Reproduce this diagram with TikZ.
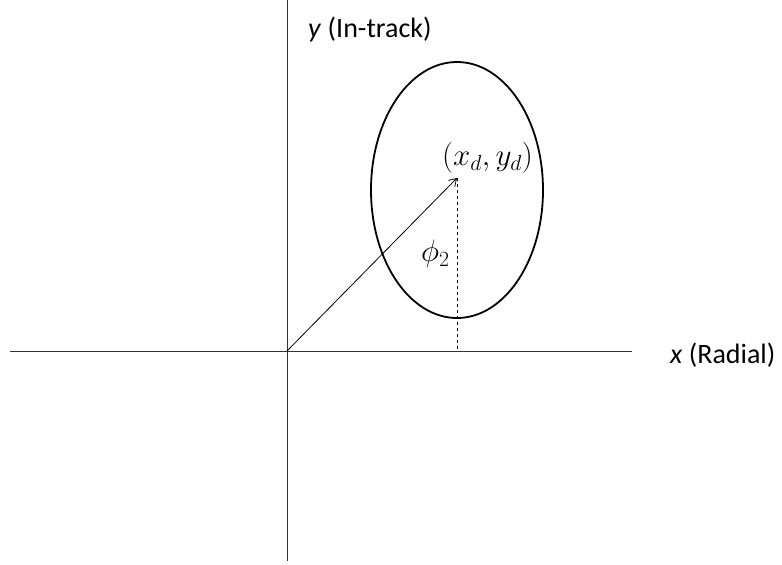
\RequirePackage{fix-cm}
\documentclass[tikz,border=0pt]{standalone}
\usepackage{fontspec}
\setmainfont{Carlito}
\usetikzlibrary{arrows.meta}
\begin{document}
\begin{tikzpicture}[x=1pt,y=-1pt,
  axis/.style={line width=1pt,black!80},
  lbl/.style={inner sep=0pt,font=\fontsize{28}{32}\selectfont},
  mlbl/.style={inner sep=0pt,font=\fontsize{31}{36}\selectfont}]
\useasboundingbox (0,0) rectangle (782,565);
\coordinate (ytop) at (287,0);
\coordinate (ybot) at (287,561);
\coordinate (xl) at (10,351);
\coordinate (xr) at (632,351);
\coordinate (O) at (287,351);
\coordinate (D) at (457,178);
\coordinate (Dx) at (457,351);
\draw[axis] (ytop) -- (ybot);
\draw[axis] (xl) -- (xr);
\draw[line width=1.8pt] (457,190) ellipse [x radius=86, y radius=128];
\draw[line width=0.8pt,-{Straight Barb[length=7pt,width=9pt]}] (O) -- (D);
\draw[dashed,line width=0.8pt] (D) -- (Dx);
\node[lbl,anchor=west] (ylab) at (308,30) {\textit{y} (In-track)};
\node[lbl,anchor=west] (xlab) at (670,355) {\textit{x} (Radial)};
\node[mlbl,anchor=west] (dlab) at (442,158) {$(x_d,y_d)$};
\node[mlbl,anchor=west] (philab) at (421,254) {$\phi_2$};
\end{tikzpicture}
\end{document}
